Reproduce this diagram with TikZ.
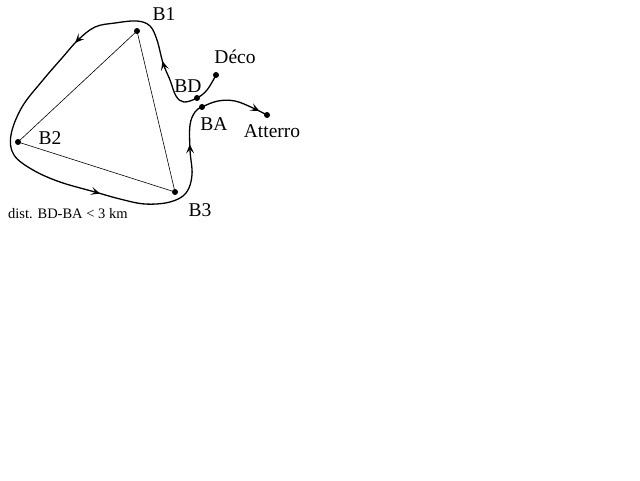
\documentclass[tikz,border=0pt]{standalone}
\usepackage{fontspec}
\setmainfont{Liberation Serif}
\usetikzlibrary{arrows.meta,decorations.markings}
\tikzset{
  balise/.style={circle,fill=black,inner sep=0pt,minimum size=6pt},
  lbl/.style={font=\fontsize{19.5}{22}\selectfont,inner sep=0pt},
  course/.style={line width=1.3pt,line cap=round,line join=round,
    postaction=decorate,decoration={markings,
      mark=at position 92pt with {\arrow{Stealth[length=9pt,width=8pt,inset=4pt]}},
      mark=at position 212pt with {\arrow{Stealth[length=9pt,width=8pt,inset=4pt]}},
      mark=at position 442pt with {\arrow{Stealth[length=9pt,width=8pt,inset=4pt]}},
      mark=at position 582pt with {\arrow{Stealth[length=9pt,width=8pt,inset=4pt]}},
      mark=at position 685pt with {\arrow{Stealth[length=9pt,width=8pt,inset=4pt]}}}},
}
\begin{document}
\begin{tikzpicture}[x=1pt,y=-1pt]
      \useasboundingbox[fill=white] (0,0) rectangle (640,480);
      % balises
      \node[balise] (b1) at (137,31) {};
      \node[balise] (b2) at (18,142) {};
      \node[balise] (b3) at (175,192) {};
      \node[balise] (deco) at (216,75) {};
      \node[balise] (bd) at (197,98) {};
      \node[balise] (ba) at (202,107) {};
      \node[balise] (atterro) at (267,115) {};
      % triangle
      \draw[line width=0.6pt] (b1.center) -- (b2.center) -- (b3.center) -- cycle;
      % parcours
      \draw[course] plot[smooth,tension=0.6] coordinates {(deco.center) (207,90) (bd.center)
        (184,102) (176,96) (170,80) (163,63) (157,40) (150,26) (137,21) (115,23)
        (95,27) (78,40) (62,58) (43,80) (22,107) (11,135) (14,155) (33,170)
        (60,182) (95,192) (120,199) (145,204) (170,202) (186,193) (192,175)
        (190,150) (190,125) (195,112) (ba.center) (218,101) (235,101) (253,108)
        (atterro.center)};
      % noms
      \node[lbl] (lb1) at (164,14) {B1};
      \node[lbl] (lb2) at (50,138) {B2};
      \node[lbl] (lb3) at (200,210) {B3};
      \node[lbl] (ldeco) at (235,57) {Déco};
      \node[lbl] (lbd) at (188,86) {BD};
      \node[lbl] (lba) at (214,124) {BA};
      \node[lbl] (latterro) at (272,131) {Atterro};
      \node[font=\fontsize{14.5}{17}\selectfont,inner sep=0pt,anchor=west] (dist) at (8,214) {dist. BD-BA < 3 km};
\end{tikzpicture}
\end{document}
